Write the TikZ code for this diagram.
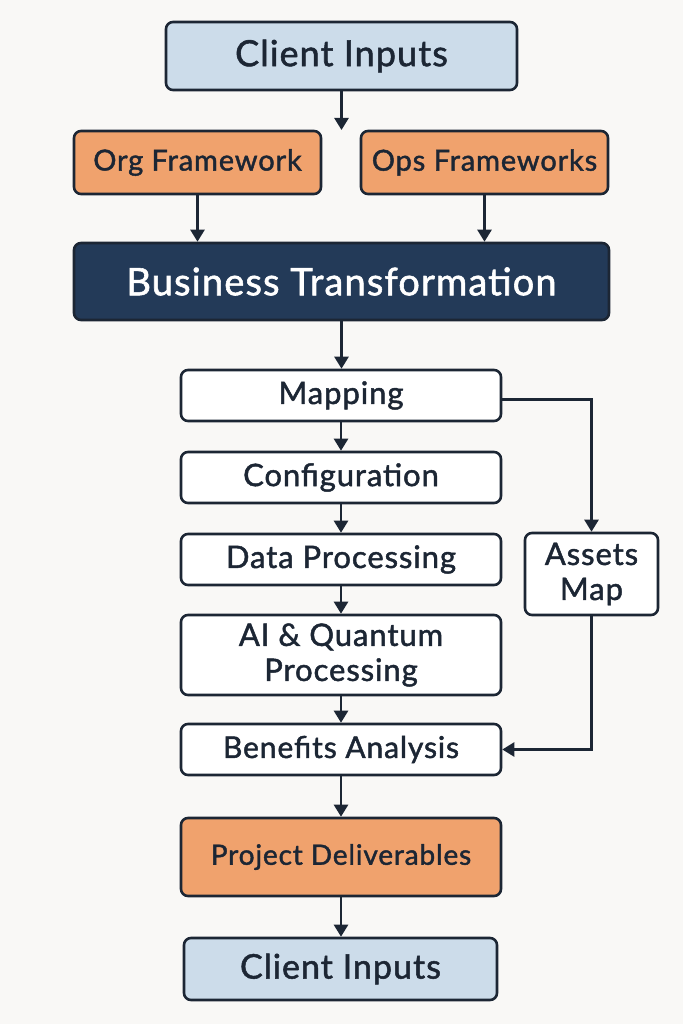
\documentclass[tikz,border=0pt]{standalone}
\usepackage{fontspec}
\setmainfont{Lato}[FakeBold=1.5,LetterSpace=3]
\usetikzlibrary{arrows.meta}
\definecolor{inkline}{HTML}{1C2634}
\definecolor{clientblue}{HTML}{CCDCEA}
\definecolor{frameorange}{HTML}{F0A26D}
\definecolor{navy}{HTML}{233A58}
\definecolor{paper}{HTML}{F9F8F6}

\begin{document}
\begin{tikzpicture}[x=1pt,y=-1pt,
 box/.style={draw=inkline,line width=2.6pt,rounded corners=7pt,fill=white,
  text=inkline,align=center,inner sep=0pt},
 sz/.style 2 args={minimum width=#1,minimum height=#2},
 client/.style={box,fill=clientblue},
 frame/.style={box,fill=frameorange},
 core/.style={box,fill=navy,text=white},
 arr/.style={draw=inkline,line width=2.5pt,-{Triangle[length=12pt,width=14pt]}},
 ]
 \def\fs#1{\fontsize{#1}{35}\selectfont}
 \useasboundingbox[fill=paper] (0,0) rectangle (683,1024);

 % top part
 \node[client,sz={351pt}{68pt},font=\fs{36}] (cin) at (341.5,56) {Client Inputs};
 \node[frame,sz={247pt}{63pt},font=\fs{29}] (org) at (197.5,162.5) {Org Framework};
 \node[frame,sz={247pt}{63pt},font=\fs{29}] (ops) at (484.5,162.5) {Ops Frameworks};
 \node[core,sz={535pt}{77pt},font=\fs{38}] (bt) at (341.5,281.5) {Business Transformation};
 \coordinate (split) at (341.5,130);

 % process column
 \node[box,sz={320pt}{51pt},font=\fs{31}] (map) at (341,395.5) {Mapping};
 \node[box,sz={320pt}{51pt},font=\fs{31}] (conf) at (341,477.5) {Configuration};
 \node[box,sz={320pt}{51pt},font=\fs{31}] (data) at (341,559.5) {Data Processing};
 \node[box,sz={320pt}{80pt},font=\fs{31}] (aiq) at (341,655) {AI \& Quantum\\Processing};
 \node[box,sz={320pt}{51pt},font=\fs{30}] (ben) at (341,749.5) {Benefits Analysis};
 \node[frame,sz={320pt}{78pt},font=\fs{28}] (proj) at (341,857) {Project Deliverables};
 \node[client,sz={313pt}{62pt},font=\fs{34}] (cout) at (340.5,969) {Client Inputs};
 \node[box,sz={133pt}{82pt},font=\fs{31}] (assets) at (591.5,574) {Assets\\Map};

 % connectors
 \draw[arr] (cin.south) -- (split);
 \draw[arr] (org.south) -- (org.south |- bt.north);
 \draw[arr] (ops.south) -- (ops.south |- bt.north);
 \foreach \a/\b in {bt/map,map/conf,conf/data,data/aiq,aiq/ben,ben/proj,proj/cout}
 {\draw[arr] (\a.south) -- (\a.south |- \b.north);}
 \draw[arr] ([yshift=-4pt]map.east) -| (assets.north);
 \draw[arr] (assets.south) |- (ben.east);
\end{tikzpicture}
\end{document}
